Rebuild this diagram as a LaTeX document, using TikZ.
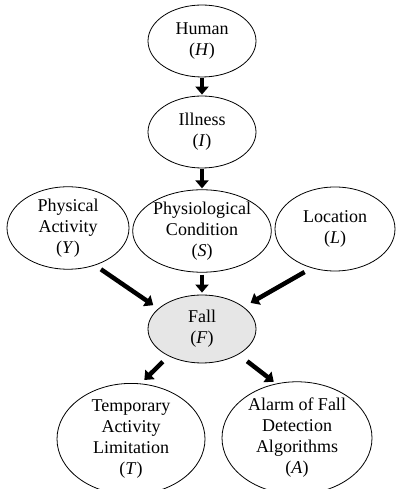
\documentclass[tikz,border=0pt]{standalone}
\usepackage{fontspec}
\setmainfont{Liberation Serif}
\usetikzlibrary{shapes.geometric,arrows.meta}
\definecolor{fallgray}{RGB}{230,230,230}
\begin{document}
\begin{tikzpicture}[x=1pt,y=1pt,
  ell/.style={ellipse,draw=black,line width=0.8pt,inner sep=0pt,align=center,
    font=\fontsize{18}{21}\selectfont},
  arr/.style={line width=4.5pt,-{Triangle[width=13pt,length=8pt]}}]
\useasboundingbox (0,0) rectangle (398,489);
\node[ell,minimum width=108pt,minimum height=72pt] (H) at (202,448) {Human\\(\textit{H})};
\node[ell,minimum width=108pt,minimum height=72pt] (I) at (202,357) {Illness\\(\textit{I})};
\node[ell,minimum width=128pt,minimum height=82pt] (S) at (202,258) {Physiological\\Condition\\(\textit{S})};
\node[ell,minimum width=122pt,minimum height=82pt] (Y) at (68,261) {Physical\\Activity\\(\textit{Y})};
\node[ell,minimum width=120pt,minimum height=84pt] (L) at (335,260) {Location\\(\textit{L})};
\node[ell,fill=fallgray,minimum width=108pt,minimum height=68pt] (F) at (202,160) {Fall\\(\textit{F})};
\node[ell,minimum width=148pt,minimum height=98pt] (T) at (131,50) {Temporary\\Activity\\Limitation\\(\textit{T})};
\node[ell,minimum width=150pt,minimum height=100pt] (A) at (297,51) {Alarm of Fall\\Detection\\Algorithms\\(\textit{A})};
\draw[arr,shorten <=1pt,shorten >=1pt] (H.south) -- (I.north);
\draw[arr,shorten <=1pt,shorten >=1pt] (I.south) -- (S.north);
\draw[arr,shorten <=2pt,shorten >=2pt] (S.south) -- (F.north);
\draw[arr,shorten <=7pt,shorten >=6pt] (Y.-54) -- (F.155);
\draw[arr,shorten <=8pt,shorten >=8pt] (L.239) -- (F.28);
\draw[arr,shorten <=8pt,shorten >=5pt] (F.219) -- (T.80);
\draw[arr,shorten <=11pt,shorten >=3pt] (F.-35) -- (A.111);
\end{tikzpicture}
\end{document}
